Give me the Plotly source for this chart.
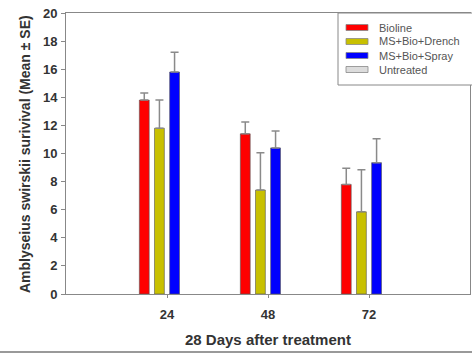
import plotly.graph_objects as go

days = [24, 48, 72]
series_names = ["Bioline", "MS+Bio+Drench", "MS+Bio+Spray", "Untreated"]
bioline = [13.8, 11.4, 7.8]
bioline_se = [0.5, 0.85, 1.15]
drench = [11.8, 7.4, 5.85]
drench_se = [2.0, 2.65, 3.0]
spray = [15.8, 10.4, 9.35]
spray_se = [1.4, 1.2, 1.7]
untreated = [0, 0, 0]
untreated_se = [0, 0, 0]
y_ticks = [0, 2, 4, 6, 8, 10, 12, 14, 16, 18, 20]

colors = ["#ff0000", "#c8c000", "#0000ff", "#dcdcdc"]
values = [bioline, drench, spray, untreated]
errors = [bioline_se, drench_se, spray_se, untreated_se]

W, H = 472, 354
ML, MR, MT, MB = 66, 2, 13, 60
PW, PH = W - ML - MR, H - MT - MB


def px(xpix):
    return (xpix - ML) / PW


def py(ypix):
    return (H - MB - ypix) / PH


fig = go.Figure()
for name, vals, errs, col in zip(series_names, values, errors, colors):
    has = any(v > 0 for v in vals)
    fig.add_trace(go.Bar(
        x=days, y=vals, name=name, showlegend=False, hoverinfo="skip",
        marker=dict(color=col, line=dict(color="#555555", width=0.6 if has else 0)),
        error_y=dict(type="data", array=errs, arrayminus=[0] * len(errs), symmetric=False,
                     color="#8a8a8a", thickness=1.5, width=4, visible=has),
    ))

font_main = "Liberation Sans, Arial, sans-serif"
fig.update_layout(
    width=W, height=H,
    margin=dict(l=ML, r=MR, t=MT, b=MB, autoexpand=False),
    paper_bgcolor="white", plot_bgcolor="white",
    barmode="group", bargap=0.4, bargroupgap=0.35,
    showlegend=False,
    font=dict(family=font_main, color="#333333"),
)
fig.update_xaxes(
    range=[0, 96], tickvals=days, ticktext=[str(d) for d in days],
    showline=True, linecolor="#888888", linewidth=1, mirror=True,
    ticks="outside", ticklen=3, tickcolor="#888888", showgrid=False, zeroline=False,
    tickfont=dict(family=font_main, size=13, color="#333333", weight="bold"),
    ticklabelstandoff=5, automargin=False,
)
fig.update_yaxes(
    range=[0, 20], tickvals=y_ticks,
    showline=True, linecolor="#888888", linewidth=1, mirror=True,
    ticks="outside", ticklen=4, tickcolor="#888888", showgrid=False, zeroline=False,
    tickfont=dict(family=font_main, size=13, color="#333333", weight="bold"),
    ticklabelstandoff=1, automargin=False,
)

# axis titles
fig.add_annotation(xref="paper", yref="paper", x=px(268), y=py(339),
                   text="<b>28 Days after treatment</b>", showarrow=False,
                   xanchor="center", yanchor="middle",
                   font=dict(family=font_main, size=15, color="#333333"))
fig.add_annotation(xref="paper", yref="paper", x=px(25), y=py(154), textangle=-90,
                   text="<b>Amblyseius swirskii surivival (Mean ± SE)</b>", showarrow=False,
                   xanchor="center", yanchor="middle",
                   font=dict(family=font_main, size=14, color="#333333"))

# manual legend
fig.add_shape(type="rect", xref="paper", yref="paper", x0=px(338), x1=px(473), y0=py(85), y1=py(13),
              line=dict(color="#888888", width=1), fillcolor="white", layer="above")
for i, (name, col) in enumerate(zip(series_names, colors)):
    yc = 27.5 + 14 * i
    fig.add_shape(type="rect", xref="paper", yref="paper", x0=px(346), x1=px(368),
                  y0=py(yc + 3), y1=py(yc - 3), fillcolor=col,
                  line=dict(color="#888888", width=0.8), layer="above")
    fig.add_annotation(xref="paper", yref="paper", x=px(377), y=py(yc), text=name,
                       showarrow=False, xanchor="left", yanchor="middle",
                       font=dict(family=font_main, size=11, color="#555555"))

fig.add_shape(type="line", xref="paper", yref="paper", x0=px(0), x1=px(472), y0=py(352), y1=py(352),
              line=dict(color="#777777", width=1.5))
fig.write_html("out.html", config={"displayModeBar": False},
               post_script="document.body.style.margin='0';document.body.style.overflow='hidden';")
